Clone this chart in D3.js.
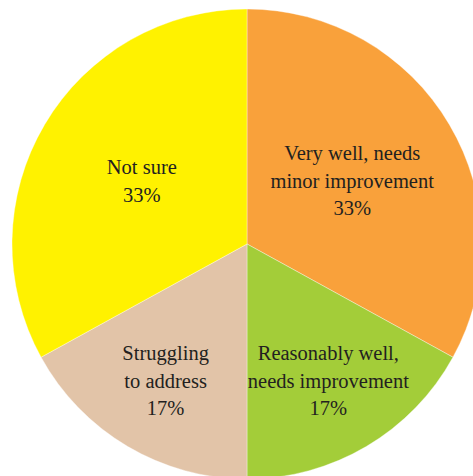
<!DOCTYPE html>
<html>
<head>
<meta charset="utf-8">
<script src="https://cdn.jsdelivr.net/npm/d3@7"></script>
<style>
  html, body { margin: 0; padding: 0; background: #fff; }
  svg { display: block; font-family: "Liberation Serif", serif; }
</style>
</head>
<body>
<svg id="chart" width="473" height="476"></svg>
<script>
// Survey responses, clockwise from 12 o'clock
const categories = [
  ["Very well, needs", "minor improvement"],
  ["Reasonably well,", "needs improvement"],
  ["Struggling", "to address"],
  ["Not sure"]
];
const values = [33, 17, 17, 33];
const colors = ["#F9A13B", "#A3CD39", "#E2C4A8", "#FFF200"];

const svg = d3.select("#chart");
const cx = 247, cy = 244, radius = 235;

const data = categories.map((c, i) => ({ lines: c, value: values[i], color: colors[i] }));

const pie = d3.pie().sort(null).value(d => d.value);
const arcs = pie(data);
const arc = d3.arc().innerRadius(0).outerRadius(radius);

const g = svg.append("g").attr("transform", `translate(${cx},${cy})`);

g.selectAll("path.slice")
  .data(arcs)
  .join("path")
  .attr("class", "slice")
  .attr("d", arc)
  .attr("fill", d => d.data.color)
  .attr("stroke", "#fff")
  .attr("stroke-opacity", 0.6)
  .attr("stroke-width", 0.6);

// Labels: larger slices sit nearer the centre, narrow ones further out
const lineHeight = 27.5;
const labelPos = d => {
  const r = d.data.value > 25 ? radius * 0.52 : radius * 0.68;
  return d3.arc().innerRadius(r).outerRadius(r).centroid(d);
};

const labels = g.selectAll("text.label")
  .data(arcs)
  .join("text")
  .attr("class", "label")
  .attr("text-anchor", "middle")
  .attr("font-size", 20.5)
  .attr("fill", "#231F20")
  .attr("transform", d => {
    const [x, y] = labelPos(d);
    return `translate(${x},${y})`;
  });

labels.each(function(d) {
  const lines = d.data.lines.concat([d.data.value + "%"]);
  const t = d3.select(this);
  const y0 = -((lines.length - 1) * lineHeight) / 2 + 6;
  lines.forEach((ln, i) => {
    t.append("tspan")
      .attr("x", 0)
      .attr("y", y0 + i * lineHeight)
      .text(ln);
  });
});
</script>
</body>
</html>
